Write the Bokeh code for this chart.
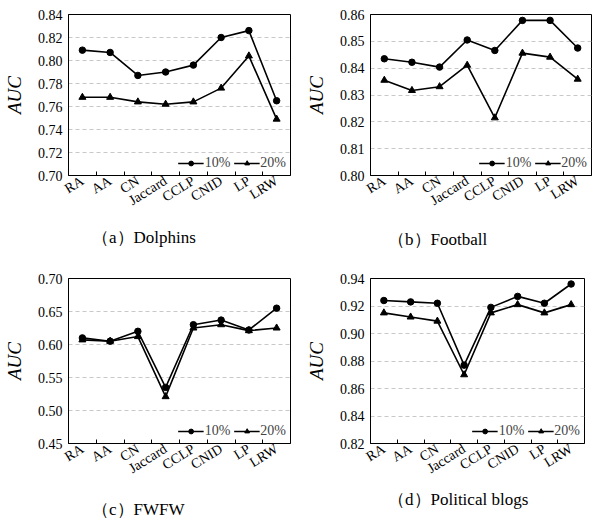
from bokeh.plotting import figure
from bokeh.layouts import column, row
from bokeh.models import Range1d, FixedTicker, Legend, LegendItem, Div, NumeralTickFormatter
from bokeh.embed import file_html
from bokeh.resources import INLINE

methods = ["RA", "AA", "CN", "Jaccard", "CCLP", "CNID", "LP", "LRW"]
series_labels = ["10%", "20%"]

dolphins_10 = [0.809, 0.807, 0.787, 0.790, 0.796, 0.820, 0.826, 0.765]
dolphins_20 = [0.768, 0.768, 0.764, 0.762, 0.764, 0.776, 0.804, 0.749]

football_10 = [0.8435, 0.8422, 0.8404, 0.8505, 0.8466, 0.8578, 0.8578, 0.8475]
football_20 = [0.8355, 0.8317, 0.8331, 0.8411, 0.8215, 0.8456, 0.8441, 0.8359]

fwfw_10 = [0.610, 0.605, 0.620, 0.535, 0.630, 0.637, 0.622, 0.655]
fwfw_20 = [0.607, 0.605, 0.612, 0.521, 0.625, 0.630, 0.621, 0.625]

polblogs_10 = [0.924, 0.923, 0.922, 0.877, 0.919, 0.927, 0.922, 0.936]
polblogs_20 = [0.915, 0.912, 0.909, 0.870, 0.915, 0.921, 0.915, 0.921]

ticks_a = [0.70, 0.72, 0.74, 0.76, 0.78, 0.80, 0.82, 0.84]
ticks_b = [0.80, 0.81, 0.82, 0.83, 0.84, 0.85, 0.86]
ticks_c = [0.45, 0.50, 0.55, 0.60, 0.65, 0.70]
ticks_d = [0.82, 0.84, 0.86, 0.88, 0.90, 0.92, 0.94]

titles = ["（a）Dolphins", "（b）Football", "（c）FWFW", "（d）Political blogs"]

SERIF = "'Liberation Serif', 'DejaVu Serif', serif"


def panel(v10, v20, yticks, width, height, bl, br, bt, bb):
    xs = list(range(len(methods)))
    p = figure(width=width, height=height,
               x_range=Range1d(-0.5, len(methods) - 0.5),
               y_range=Range1d(yticks[0], yticks[-1]),
               output_backend="svg", toolbar_location=None,
               min_border_left=bl, min_border_right=br,
               min_border_top=bt, min_border_bottom=bb)
    p.outline_line_color = "black"
    p.outline_line_width = 1
    p.background_fill_color = "white"
    p.border_fill_color = "white"

    # x axis
    p.xaxis.ticker = FixedTicker(ticks=xs, minor_ticks=[x + 0.5 for x in xs[:-1]])
    p.xaxis.major_label_overrides = {i: m for i, m in enumerate(methods)}
    p.xaxis.major_tick_in = 0
    p.xaxis.major_tick_out = 0
    p.xaxis.minor_tick_in = 4
    p.xaxis.minor_tick_out = 0
    p.xaxis.minor_tick_line_color = "black"
    p.xaxis.major_label_orientation = 0.56
    p.xaxis.major_label_text_font = SERIF
    p.xaxis.major_label_text_font_size = "14px"
    p.xaxis.major_label_text_color = "black"
    p.xaxis.major_label_standoff = 4
    p.xaxis.axis_line_color = "black"

    # y axis
    p.yaxis.ticker = FixedTicker(ticks=yticks)
    p.yaxis.formatter = NumeralTickFormatter(format="0.00")
    p.yaxis.major_tick_in = 0
    p.yaxis.major_tick_out = 0
    p.yaxis.minor_tick_line_color = None
    p.yaxis.major_label_text_font = SERIF
    p.yaxis.major_label_text_font_size = "14px"
    p.yaxis.major_label_text_color = "black"
    p.yaxis.major_label_standoff = 6
    p.yaxis.axis_label = "AUC"
    p.yaxis.axis_label_text_font = SERIF
    p.yaxis.axis_label_text_font_style = "italic"
    p.yaxis.axis_label_text_font_size = "19px"
    p.yaxis.axis_label_text_color = "black"
    p.yaxis.axis_label_standoff = 10
    p.yaxis.axis_line_color = "black"

    # grid
    p.xgrid.grid_line_color = None
    p.ygrid.ticker = FixedTicker(ticks=yticks[1:-1])
    p.ygrid.grid_line_color = "#c8c8c8"
    p.ygrid.grid_line_dash = "4 3"
    p.ygrid.grid_line_width = 1

    l1 = p.line(xs, v10, line_color="black", line_width=1.6)
    s1 = p.scatter(xs, v10, marker="circle", size=6.5, fill_color="black", line_color="black")
    l2 = p.line(xs, v20, line_color="black", line_width=1.6)
    s2 = p.scatter(xs, v20, marker="triangle", size=7, fill_color="black", line_color="black")

    legend = Legend(items=[LegendItem(label=series_labels[0], renderers=[l1, s1]),
                           LegendItem(label=series_labels[1], renderers=[l2, s2])],
                    orientation="horizontal", location="bottom_right",
                    border_line_color=None, background_fill_alpha=0,
                    label_text_font=SERIF, label_text_font_size="14px",
                    glyph_width=26, glyph_height=12, label_standoff=1,
                    spacing=3, padding=0, margin=4,
                    label_height=12)
    p.add_layout(legend)
    return p


def caption(text, width, height, pad_left, pad_top):
    return Div(text=text, width=width, height=height, margin=0,
               styles={"font-family": SERIF, "font-size": "17px", "line-height": "20px",
                       "color": "black", "padding-left": f"{pad_left}px",
                       "padding-top": f"{pad_top}px", "white-space": "nowrap"})


pa = panel(dolphins_10, dolphins_20, ticks_a, 297, 220, 64, 7, 14, 45)
pb = panel(football_10, football_20, ticks_b, 295, 220, 73, 1, 12, 43)
pc = panel(fwfw_10, fwfw_20, ticks_c, 297, 228, 64, 7, 18, 45)
pd = panel(polblogs_10, polblogs_20, ticks_d, 295, 228, 73, 8, 18, 45)

ca = caption(titles[0], 297, 40, 92, 8)
cb = caption(titles[1], 295, 40, 91, 10)
cc = caption(titles[2], 297, 33, 92, 12)
cd = caption(titles[3], 295, 33, 91, 2)

layout = column(row(pa, pb), row(ca, cb), row(pc, pd), row(cc, cd))

open("out.html", "w").write(file_html(layout, INLINE))
